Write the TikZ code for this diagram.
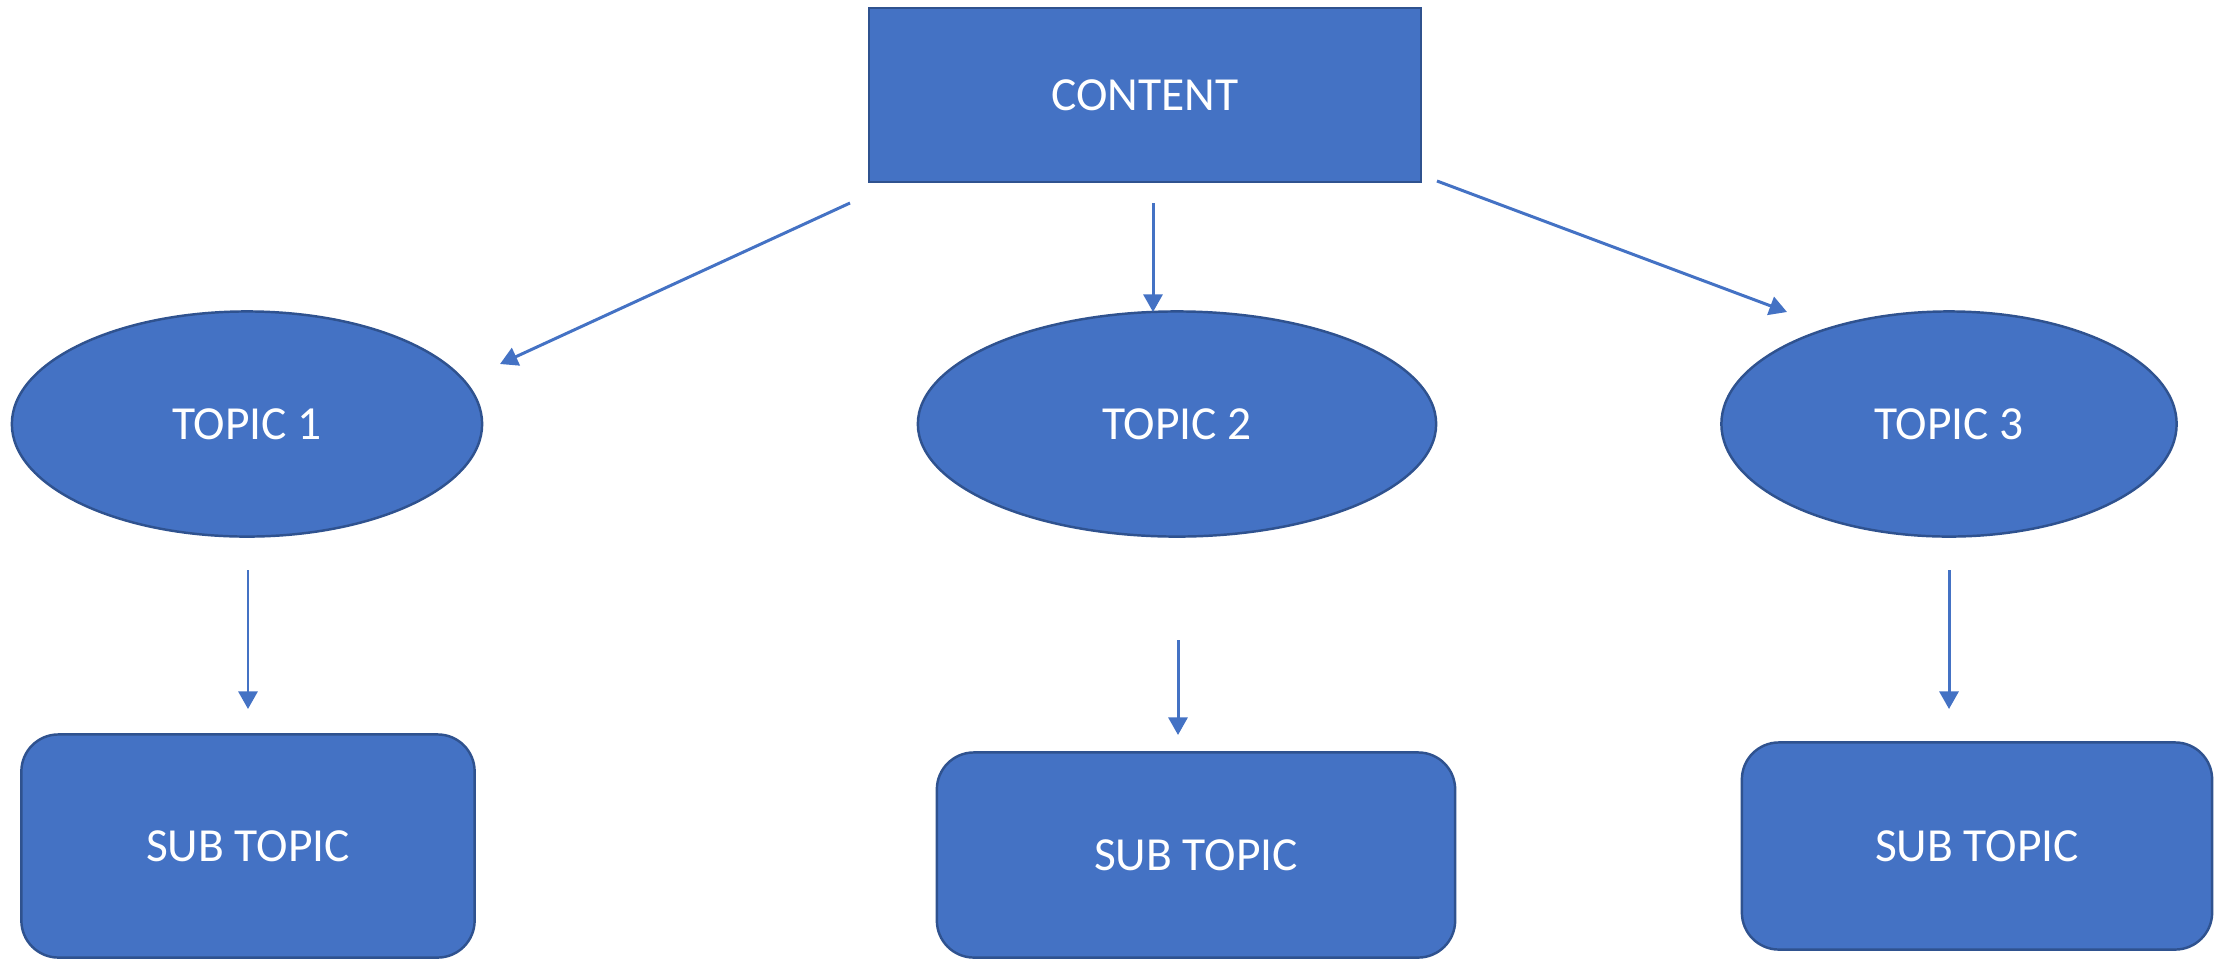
\documentclass[tikz,border=0pt]{standalone}
\usepackage{fontspec}
\setmainfont{Carlito}
\usepackage{xcolor}
\definecolor{office-blue}{HTML}{4472C4}
\definecolor{office-edge}{HTML}{2F528F}
\usetikzlibrary{shapes,shapes.geometric,arrows.meta,positioning}
\tikzset{
    link/.style ={-{Triangle[length=5pt,width=5.4pt]}, office-blue, line width=0.85pt},
    box/.style ={rectangle, draw=office-edge, fill=office-blue, line width=0.7pt, text=white, font=\fontsize{13.5}{16}\selectfont},
    topic/.style ={ellipse, draw=office-edge, fill=office-blue, line width=0.7pt, text=white, font=\fontsize{13.5}{16}\selectfont, minimum height=2.25cm},
    subbox/.style ={box, rounded corners=0.37cm},
}

\begin{document}
\begin{tikzpicture}[x=0.01cm,y=-0.01cm]
      \useasboundingbox (0,0) rectangle (2215,960);
      \node[box, minimum width=5.52cm, minimum height=1.74cm] (content) at (1145,95) {CONTENT};

      \node[topic, minimum width=4.70cm] (T1) at (247,424) {TOPIC 1};
      \node[topic, minimum width=5.18cm] (T2) at (1177,424) {TOPIC 2};
      \node[topic, minimum width=4.55cm] (T3) at (1949,424) {TOPIC 3};

      \node[subbox, minimum width=4.53cm, minimum height=2.23cm] (S1) at (248,846) {SUB TOPIC};
      \node[subbox, minimum width=5.18cm, minimum height=2.05cm] (S2) at (1196,855) {SUB TOPIC};
      \node[subbox, minimum width=4.70cm, minimum height=2.07cm] (S3) at (1977,846) {SUB TOPIC};

      % free arrow ends
      \coordinate (c1) at (850,203);  \coordinate (t1) at (500,364);
      \coordinate (c2) at (1153,203); \coordinate (t2) at (1153,312);
      \coordinate (c3) at (1437,181); \coordinate (t3) at (1787,312);
      \coordinate (u1) at (248,570);  \coordinate (s1) at (248,709);
      \coordinate (u2) at (1178,640); \coordinate (s2) at (1178,735);
      \coordinate (u3) at (1949,570); \coordinate (s3) at (1949,709);

      \draw[link] (c1) -- (t1);
      \draw[link] (c2) -- (t2);
      \draw[link] (c3) -- (t3);
      \draw[link] (u1) -- (s1);
      \draw[link] (u2) -- (s2);
      \draw[link] (u3) -- (s3);
\end{tikzpicture}
\end{document}
